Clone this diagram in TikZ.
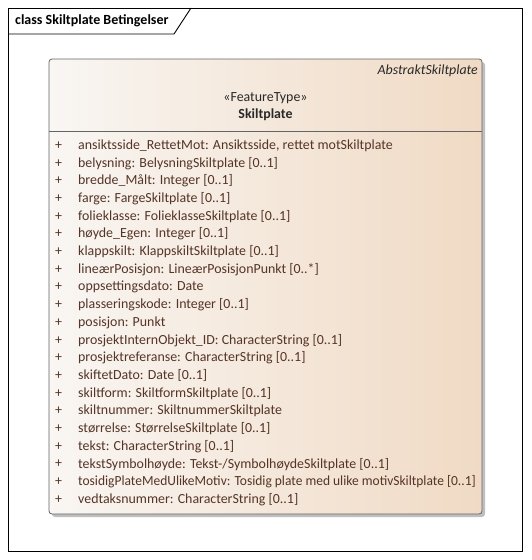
\documentclass[tikz,border=0pt]{standalone}
\usepackage{graphicx}
\usepackage{fontspec}
\setmainfont{Carlito}
\definecolor{attrtext}{RGB}{85,52,38}
\definecolor{hdrtext}{RGB}{40,40,40}
\definecolor{fillL}{RGB}{249,246,243}
\definecolor{fillR}{RGB}{240,218,196}
\definecolor{boxline}{RGB}{100,100,100}
\tikzset{
  attr/.style={anchor=west, inner sep=0pt, text=attrtext, font=\fontsize{13.9}{16}\selectfont},
  plus/.style={anchor=center, inner sep=0pt, text=attrtext, font=\fontsize{13.9}{16}\selectfont},
  hdr/.style={inner sep=0pt, text=hdrtext, font=\fontsize{13.9}{16}\selectfont},
}
\begin{document}
\begin{tikzpicture}[x=1pt,y=-1pt]
\useasboundingbox (0,0) rectangle (531,560);
\fill[white] (0,0) rectangle (531,560);
% frame
\draw[black, line width=0.9pt] (8,8) rectangle (522,551);
\draw[black, line width=0.9pt] (8,34) -- (174,34) -- (191,8);
\node[anchor=west, inner sep=0pt, font=\fontsize{14}{16}\selectfont\bfseries] (title) at (15,21) {class Skiltplate Betingelser};
% shadow
\fill[black!25, rounded corners=3pt] (52,62) rectangle (485,517);
% class box
\shade[left color=fillL, right color=fillR, rounded corners=3pt] (49,59) rectangle (482,514);
\draw[boxline, line width=0.8pt, rounded corners=3pt] (49,59) rectangle (482,514);
\draw[boxline, line width=0.8pt] (49,131) -- (482,131);
\node[hdr, anchor=east, font=\fontsize{13.9}{16}\selectfont\itshape] (abs) at (478,71) {AbstraktSkiltplate};
\node[hdr, anchor=center] (stereo) at (265.5,98) {«FeatureType»};
\node[hdr, anchor=center, font=\fontsize{13.9}{16}\selectfont\bfseries] (cname) at (265.5,115) {Skiltplate};
% attributes
\foreach \t [count=\i from 0] in {
 {ansiktsside\_RettetMot: Ansiktsside, rettet motSkiltplate},
 {belysning: BelysningSkiltplate [0..1]},
 {bredde\_Målt: Integer [0..1]},
 {farge: FargeSkiltplate [0..1]},
 {folieklasse: FolieklasseSkiltplate [0..1]},
 {høyde\_Egen: Integer [0..1]},
 {klappskilt: KlappskiltSkiltplate [0..1]},
 {lineærPosisjon: LineærPosisjonPunkt [0..*]},
 {oppsettingsdato: Date},
 {plasseringskode: Integer [0..1]},
 {posisjon: Punkt},
 {prosjektInternObjekt\_ID: CharacterString [0..1]},
 {prosjektreferanse: CharacterString [0..1]},
 {skiftetDato: Date [0..1]},
 {skiltform: SkiltformSkiltplate [0..1]},
 {skiltnummer: SkiltnummerSkiltplate},
 {størrelse: StørrelseSkiltplate [0..1]},
 {tekst: CharacterString [0..1]},
 {tekstSymbolhøyde: Tekst-/SymbolhøydeSkiltplate [0..1]},
 {\scalebox{0.97}[1]{tosidigPlateMedUlikeMotiv: Tosidig plate med ulike motivSkiltplate [0..1]}},
 {vedtaksnummer: CharacterString [0..1]}}
{
  \node[plus] (p\i) at (58.5,{145.5+17.7*\i}) {+};
  \node[attr] (a\i) at (78,{145.5+17.7*\i}) {\t};
}
\end{tikzpicture}
\end{document}
